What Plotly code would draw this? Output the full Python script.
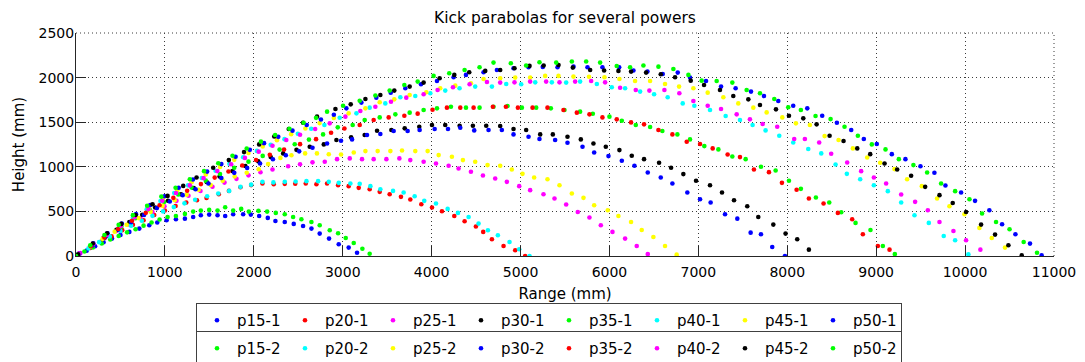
import plotly.graph_objects as go

# ---------------- data ----------------
x_p15_1 = [30, 120, 215, 310, 405, 500, 600, 712, 824, 914, 1019, 1124, 1225, 1318, 1404, 1498, 1592, 1678, 1768, 1880, 1966, 2060, 2157, 2243, 2348, 2449, 2554, 2648, 2741, 2846, 2955, 3067, 3161]
y_p15_1 = [25, 60, 110, 155, 195, 235, 270, 307, 345, 375, 400, 412, 419, 438, 457, 464, 457, 449, 468, 468, 464, 449, 427, 393, 382, 360, 337, 307, 251, 195, 131, 94, 37]

x_p15_2 = [0, 95, 190, 290, 385, 480, 575, 670, 760, 850, 940, 1030, 1124, 1225, 1318, 1404, 1498, 1592, 1678, 1768, 1858, 1944, 2052, 2150, 2247, 2348, 2442, 2535, 2648, 2741, 2854, 2948, 3034, 3124, 3221, 3303]
y_p15_2 = [0, 50, 95, 140, 185, 225, 265, 300, 340, 375, 410, 438, 449, 472, 498, 509, 517, 509, 547, 509, 528, 498, 506, 498, 483, 468, 438, 412, 382, 345, 288, 255, 202, 146, 82, 26]

x_p20_1 = [40, 160, 280, 400, 520, 640, 760, 880, 1000, 1120, 1240, 1360, 1468, 1606, 1720, 1850, 1970, 2097, 2224, 2348, 2466, 2584, 2704, 2824, 2948, 3067, 3180, 3303, 3416, 3528, 3655, 3760, 3884, 4004, 4116, 4255, 4371, 4498, 4580, 4678, 4809, 4940, 5052]
y_p20_1 = [30, 90, 160, 220, 290, 350, 400, 460, 510, 560, 600, 625, 650, 693, 730, 770, 795, 813, 805, 809, 810, 813, 805, 813, 794, 783, 764, 749, 719, 693, 663, 633, 580, 543, 502, 449, 389, 330, 270, 187, 112, 64, 0]

x_p20_2 = [20, 140, 260, 380, 500, 620, 740, 860, 980, 1100, 1220, 1340, 1475, 1600, 1723, 1850, 1970, 2097, 2220, 2348, 2470, 2592, 2723, 2843, 2955, 3086, 3191, 3311, 3423, 3566, 3685, 3809, 3917, 4049, 4180, 4296, 4416, 4528, 4633, 4745, 4876, 4985, 5101]
y_p20_2 = [15, 85, 155, 220, 280, 340, 395, 450, 500, 548, 590, 630, 670, 700, 730, 775, 800, 831, 825, 831, 835, 839, 839, 831, 820, 813, 809, 783, 749, 730, 712, 670, 618, 588, 528, 483, 438, 363, 288, 232, 157, 75, 0]

x_p25_1 = [50, 185, 320, 455, 590, 725, 860, 995, 1130, 1265, 1400, 1535, 1670, 1805, 1940, 2075, 2210, 2386, 2520, 2660, 2798, 2936, 3079, 3217, 3348, 3491, 3637, 3760, 3910, 4049, 4191, 4303, 4442, 4577, 4715, 4846, 4985, 5108, 5258, 5382, 5513, 5644, 5775, 5903, 6034, 6176, 6307, 6431]
y_p25_1 = [33, 119, 201, 280, 355, 426, 494, 558, 618, 675, 728, 777, 823, 865, 904, 939, 970, 1006, 1028, 1050, 1056, 1086, 1094, 1086, 1086, 1086, 1094, 1075, 1056, 1037, 1011, 981, 944, 903, 869, 831, 783, 738, 693, 644, 577, 494, 431, 345, 270, 195, 112, 22]

x_p25_2 = [30, 165, 300, 435, 570, 705, 840, 975, 1110, 1245, 1380, 1515, 1650, 1785, 1920, 2055, 2161, 2299, 2423, 2577, 2710, 2843, 2981, 3124, 3255, 3393, 3536, 3667, 3816, 3955, 4079, 4228, 4352, 4490, 4629, 4771, 4902, 5022, 5153, 5303, 5438, 5577, 5708, 5828, 5981, 6101, 6243, 6363, 6494, 6625, 6756]
y_p25_2 = [20, 108, 192, 273, 351, 425, 495, 562, 626, 686, 742, 795, 845, 891, 934, 973, 1030, 1100, 1130, 1150, 1150, 1140, 1138, 1161, 1176, 1176, 1176, 1183, 1176, 1176, 1131, 1112, 1075, 1056, 1019, 1011, 970, 921, 880, 861, 794, 700, 652, 569, 513, 449, 382, 292, 213, 112, 15]

x_p30_1 = [20, 165, 310, 455, 600, 745, 890, 1035, 1180, 1325, 1470, 1615, 1760, 1905, 2050, 2190, 2330, 2480, 2629, 2787, 2929, 3094, 3247, 3386, 3547, 3697, 3861, 4004, 4153, 4315, 4464, 4614, 4771, 4921, 5063, 5221, 5363, 5528, 5678, 5820, 5959, 6112, 6251, 6389, 6558, 6693, 6831, 6974, 7131, 7266, 7401, 7550, 7674, 7843, 7981, 8112, 8243]
y_p30_1 = [14, 110, 203, 293, 380, 463, 543, 619, 692, 762, 829, 892, 952, 1009, 1062, 1110, 1150, 1190, 1225, 1251, 1300, 1330, 1356, 1404, 1412, 1431, 1449, 1468, 1468, 1461, 1461, 1461, 1457, 1423, 1412, 1363, 1363, 1337, 1307, 1262, 1225, 1187, 1124, 1086, 1045, 989, 918, 843, 794, 712, 625, 558, 438, 352, 251, 187, 71]

x_p30_2 = [40, 185, 330, 475, 620, 765, 910, 1055, 1200, 1345, 1490, 1635, 1780, 1925, 2070, 2215, 2360, 2510, 2660, 2824, 2981, 3105, 3273, 3423, 3573, 3730, 3865, 4034, 4184, 4322, 4479, 4640, 4790, 4921, 5090, 5213, 5389, 5528, 5697, 5828, 5989, 6139, 6281, 6431, 6577, 6708, 6876, 7019, 7138, 7300, 7438, 7588, 7704, 7831, 7974]
y_p30_2 = [26, 119, 209, 296, 380, 460, 537, 611, 682, 749, 813, 874, 932, 986, 1037, 1085, 1130, 1173, 1213, 1262, 1292, 1307, 1356, 1367, 1401, 1401, 1412, 1423, 1423, 1438, 1408, 1412, 1412, 1363, 1337, 1311, 1300, 1270, 1225, 1161, 1120, 1067, 1011, 936, 880, 813, 712, 637, 599, 468, 419, 262, 243, 101, 0]

x_p35_1 = [30, 190, 350, 510, 670, 830, 990, 1150, 1300, 1460, 1620, 1780, 1940, 2100, 2290, 2460, 2620, 2779, 2944, 3112, 3247, 3416, 3592, 3753, 3910, 4060, 4217, 4386, 4539, 4696, 4854, 5015, 5176, 5341, 5494, 5670, 5813, 6000, 6139, 6296, 6457, 6595, 6764, 6906, 7067, 7225, 7382, 7532, 7704, 7869, 8019, 8153, 8322, 8472, 8607, 8768, 8936, 9075, 9210]
y_p35_1 = [20, 127, 230, 329, 424, 517, 605, 690, 767, 845, 920, 990, 1058, 1122, 1193, 1253, 1305, 1363, 1442, 1468, 1524, 1554, 1588, 1607, 1637, 1655, 1674, 1663, 1663, 1674, 1682, 1663, 1663, 1655, 1637, 1618, 1595, 1562, 1517, 1468, 1446, 1401, 1363, 1307, 1232, 1195, 1116, 1086, 1000, 959, 843, 753, 655, 599, 491, 371, 292, 112, 22]

x_p35_2 = [10, 165, 320, 475, 630, 785, 940, 1095, 1250, 1405, 1560, 1715, 1870, 2025, 2180, 2340, 2520, 2700, 2869, 3019, 3191, 3348, 3517, 3693, 3843, 4010, 4172, 4322, 4472, 4689, 4835, 4970, 5135, 5303, 5483, 5633, 5775, 5921, 6082, 6243, 6389, 6551, 6708, 6869, 7019, 7161, 7329, 7468, 7625, 7794, 7940, 8105, 8243, 8408, 8569, 8730, 8850, 9019, 9150]
y_p35_2 = [7, 109, 207, 303, 395, 484, 569, 652, 731, 806, 879, 948, 1014, 1076, 1135, 1193, 1254, 1310, 1382, 1430, 1468, 1524, 1554, 1573, 1596, 1640, 1663, 1663, 1663, 1674, 1674, 1663, 1663, 1663, 1637, 1607, 1588, 1554, 1532, 1498, 1476, 1412, 1363, 1281, 1255, 1206, 1138, 1109, 970, 940, 820, 742, 644, 588, 483, 412, 243, 112, 71]

x_p40_1 = [20, 175, 330, 485, 640, 795, 950, 1105, 1260, 1415, 1570, 1725, 1880, 2035, 2190, 2345, 2495, 2645, 2794, 2966, 3154, 3303, 3479, 3648, 3816, 3985, 4153, 4314, 4490, 4678, 4839, 5007, 5165, 5352, 5513, 5670, 5858, 6026, 6176, 6345, 6502, 6655, 6824, 6955, 7131, 7307, 7468, 7610, 7756, 7910, 8067, 8236, 8382, 8543, 8670, 8820, 8974, 9131, 9281, 9431, 9592, 9760, 9888, 10037]
y_p40_1 = [14, 122, 227, 329, 428, 524, 616, 706, 792, 875, 956, 1033, 1107, 1178, 1246, 1310, 1370, 1427, 1468, 1550, 1599, 1663, 1711, 1779, 1794, 1824, 1854, 1880, 1899, 1899, 1929, 1925, 1947, 1947, 1944, 1955, 1929, 1891, 1880, 1843, 1813, 1779, 1711, 1685, 1637, 1569, 1524, 1468, 1408, 1348, 1273, 1200, 1150, 1026, 921, 861, 794, 727, 599, 457, 371, 225, 176, 19]

x_p40_2 = [40, 195, 350, 505, 660, 815, 970, 1125, 1280, 1435, 1590, 1745, 1900, 2055, 2210, 2365, 2520, 2690, 2854, 3030, 3198, 3367, 3543, 3715, 3910, 4067, 4240, 4427, 4622, 4771, 4932, 5108, 5288, 5438, 5614, 5794, 5951, 6120, 6296, 6449, 6618, 6786, 6944, 7105, 7255, 7431, 7580, 7723, 7887, 8078, 8198, 8359, 8494, 8674, 8831, 8974, 9112, 9281, 9438, 9581, 9712, 9869, 10011, 10172]
y_p40_2 = [28, 134, 237, 337, 434, 528, 619, 707, 792, 873, 952, 1028, 1100, 1170, 1236, 1300, 1360, 1423, 1487, 1562, 1625, 1674, 1730, 1775, 1813, 1861, 1891, 1925, 1950, 1944, 1947, 1955, 1955, 1947, 1955, 1962, 1947, 1887, 1861, 1854, 1861, 1824, 1738, 1685, 1648, 1588, 1532, 1479, 1449, 1311, 1311, 1273, 1146, 1049, 951, 880, 813, 689, 607, 513, 382, 281, 176, 71]

x_p45_1 = [20, 180, 340, 500, 660, 820, 980, 1140, 1300, 1460, 1620, 1780, 1940, 2100, 2260, 2420, 2580, 2740, 2900, 3067, 3255, 3416, 3580, 3753, 3940, 4097, 4266, 4442, 4584, 4771, 4940, 5108, 5277, 5427, 5595, 5770, 5944, 6112, 6288, 6457, 6625, 6783, 6944, 7105, 7281, 7449, 7618, 7768, 7944, 8097, 8254, 8420, 8577, 8738, 8899, 9045, 9206, 9348, 9513, 9685, 9824, 9993, 10161, 10300, 10449]
y_p45_1 = [14, 128, 237, 344, 447, 547, 644, 737, 827, 914, 998, 1078, 1155, 1228, 1299, 1366, 1430, 1490, 1547, 1599, 1655, 1723, 1756, 1805, 1835, 1880, 1910, 1936, 1985, 1992, 2000, 2000, 2019, 2019, 2011, 2010, 2004, 1985, 1962, 1962, 1929, 1899, 1880, 1831, 1779, 1711, 1663, 1610, 1554, 1487, 1468, 1344, 1300, 1206, 1105, 1045, 974, 861, 783, 644, 558, 468, 315, 202, 94]

x_p45_2 = [25, 190, 350, 510, 670, 861, 1030, 1206, 1356, 1543, 1719, 1890, 2060, 2230, 2393, 2554, 2711, 2918, 3090, 3255, 3423, 3580, 3753, 3910, 4090, 4255, 4423, 4603, 4771, 4932, 5101, 5260, 5427, 5588, 5783, 5940, 6101, 6243, 6412, 6577, 6738, 6914, 7064, 7243, 7393, 7562, 7693, 7873, 8019, 8180, 8330, 8476, 8633, 8787, 8933, 9094, 9236, 9393, 9551, 9712, 9861, 10011, 10180, 10337, 10487, 10637]
y_p45_2 = [20, 140, 255, 360, 460, 580, 674, 786, 880, 989, 1075, 1165, 1251, 1340, 1423, 1494, 1562, 1648, 1700, 1760, 1805, 1854, 1899, 1944, 1992, 2030, 2060, 2075, 2086, 2105, 2131, 2135, 2142, 2112, 2086, 2080, 2075, 2067, 2056, 2037, 2004, 1966, 1917, 1861, 1794, 1756, 1693, 1644, 1573, 1543, 1476, 1348, 1290, 1206, 1142, 1037, 970, 899, 775, 682, 595, 494, 352, 240, 120, 7]

x_p50_1 = [35, 195, 355, 515, 675, 835, 995, 1155, 1315, 1475, 1635, 1795, 1955, 2115, 2275, 2435, 2595, 2755, 2900, 3041, 3210, 3378, 3540, 3704, 3880, 4060, 4247, 4386, 4584, 4734, 4921, 5090, 5250, 5416, 5596, 5753, 5921, 6109, 6270, 6427, 6599, 6768, 6906, 7086, 7255, 7419, 7592, 7738, 7899, 8067, 8225, 8393, 8558, 8719, 8861, 9007, 9176, 9329, 9498, 9655, 9779, 9955, 10112, 10273, 10416, 10566, 10730, 10861]
y_p50_1 = [26, 142, 254, 363, 469, 571, 670, 765, 857, 946, 1030, 1112, 1190, 1265, 1336, 1405, 1469, 1530, 1583, 1655, 1720, 1775, 1830, 1880, 1925, 1962, 2004, 2030, 2060, 2086, 2105, 2116, 2120, 2116, 2123, 2116, 2116, 2116, 2079, 2067, 2041, 2056, 2000, 1962, 1899, 1880, 1843, 1794, 1738, 1685, 1655, 1573, 1494, 1412, 1311, 1255, 1142, 1086, 1007, 933, 790, 712, 618, 513, 356, 243, 139, 7]

x_p50_2 = [0, 160, 320, 480, 640, 800, 960, 1120, 1280, 1440, 1600, 1760, 1920, 2080, 2240, 2400, 2560, 2700, 2824, 3004, 3191, 3367, 3528, 3693, 3843, 4022, 4198, 4371, 4539, 4696, 4891, 5063, 5213, 5401, 5577, 5738, 5895, 6082, 6232, 6382, 6551, 6719, 6888, 7037, 7206, 7382, 7543, 7693, 7854, 8011, 8153, 8318, 8487, 8644, 8794, 8951, 9105, 9255, 9419, 9573, 9730, 9888, 10049, 10191, 10348, 10500, 10659, 10809]
y_p50_2 = [0, 120, 236, 349, 458, 564, 666, 765, 860, 951, 1039, 1124, 1205, 1282, 1356, 1426, 1493, 1549, 1618, 1685, 1741, 1800, 1854, 1917, 1955, 2019, 2049, 2086, 2116, 2168, 2161, 2135, 2172, 2168, 2180, 2180, 2168, 2130, 2116, 2135, 2123, 2097, 2030, 1966, 1962, 1944, 1861, 1824, 1760, 1667, 1637, 1569, 1535, 1449, 1348, 1251, 1195, 1086, 1019, 936, 813, 727, 637, 476, 382, 300, 157, 37]

x_ticks = [0, 1000, 2000, 3000, 4000, 5000, 6000, 7000, 8000, 9000, 10000, 11000]
x_tick_labels = ["0", "1000", "2000", "3000", "4000", "5000", "6000", "7000", "8000", "9000", "10000", "11000"]
y_ticks = [0, 500, 1000, 1500, 2000, 2500]
y_tick_labels = ["0", "500", "1000", "1500", "2000", "2500"]

# ---------------- series table: (name, x, y, colour, legend row) ----------------
series = [
    ("p15-1", x_p15_1, y_p15_1, "#0000ff", "legend"),
    ("p20-1", x_p20_1, y_p20_1, "#ff0000", "legend"),
    ("p25-1", x_p25_1, y_p25_1, "#ff00ff", "legend"),
    ("p30-1", x_p30_1, y_p30_1, "#000000", "legend"),
    ("p35-1", x_p35_1, y_p35_1, "#00ff00", "legend"),
    ("p40-1", x_p40_1, y_p40_1, "#00ffff", "legend"),
    ("p45-1", x_p45_1, y_p45_1, "#ffff00", "legend"),
    ("p50-1", x_p50_1, y_p50_1, "#0000ff", "legend"),
    ("p15-2", x_p15_2, y_p15_2, "#00ff00", "legend2"),
    ("p20-2", x_p20_2, y_p20_2, "#00ffff", "legend2"),
    ("p25-2", x_p25_2, y_p25_2, "#ffff00", "legend2"),
    ("p30-2", x_p30_2, y_p30_2, "#0000ff", "legend2"),
    ("p35-2", x_p35_2, y_p35_2, "#ff0000", "legend2"),
    ("p40-2", x_p40_2, y_p40_2, "#ff00ff", "legend2"),
    ("p45-2", x_p45_2, y_p45_2, "#000000", "legend2"),
    ("p50-2", x_p50_2, y_p50_2, "#00ff00", "legend2"),
]

FONT = "DejaVu Sans, Verdana, sans-serif"
W, H = 1085, 362
OFF = 8  # the page body has an 8 px margin: figure coords = screen coords - 8

fig = go.Figure()
for name, xs, ys, col, leg in series:
    fig.add_trace(go.Scatter(
        x=xs, y=ys, mode="markers", name=name, legend=leg,
        marker=dict(symbol="circle", size=4.6, color=col, line=dict(width=0)),
    ))

axis_common = dict(
    showgrid=True, gridcolor="#3a3a3a", gridwidth=1, griddash="1px,3px",
    showline=True, linecolor="#262626", linewidth=1,
    ticks="inside", ticklen=10, tickcolor="#262626", tickwidth=1,
    zeroline=False, automargin=False,
    tickfont=dict(family=FONT, size=14, color="#000000"),
)

legend_common = dict(
    orientation="h", xref="container", yref="container",
    x=(196 - OFF) / W, xanchor="left", yanchor="top",
    entrywidth=43, entrywidthmode="pixels",
    bordercolor="#404040", borderwidth=1, bgcolor="white",
    font=dict(family=FONT, size=15, color="#000000"),
    itemwidth=30, traceorder="normal",
)

# screen-space plot box: x 76..1054, y 33..256
l = 76 - OFF
t = 33 - OFF
r = W - (1054 - OFF)
b = H - (256 - OFF)

fig.update_layout(
    width=W, height=H,
    margin=dict(l=l, r=r, t=t, b=b, autoexpand=False),
    paper_bgcolor="white", plot_bgcolor="white",
    font=dict(family=FONT, size=14, color="#000000"),
    title=dict(text="Kick parabolas for several powers", x=0.5, xref="paper",
               y=1 - 4 / H, yref="container", yanchor="top", pad=dict(t=0, b=0),
               font=dict(family=FONT, size=15.5, color="#000000")),
    xaxis=dict(range=[0, 11000], tickvals=x_ticks, ticktext=x_tick_labels,
               ticklabelstandoff=3,
               title=dict(text="Range (mm)", standoff=9,
                          font=dict(family=FONT, size=15)),
               **axis_common),
    yaxis=dict(range=[0, 2500], tickvals=y_ticks, ticktext=y_tick_labels,
               ticklabelstandoff=-2,
               title=dict(text="Height (mm)", standoff=10,
                          font=dict(family=FONT, size=15)),
               **axis_common),
    legend=dict(y=1 - (303 - OFF) / H, **legend_common),
    legend2=dict(y=1 - (331 - OFF) / H, **legend_common),
    showlegend=True,
)

# top and right edges of the axes box (dotted like the grid in the reference)
fig.add_shape(type="line", xref="paper", yref="paper", x0=0, x1=1, y0=1, y1=1,
              line=dict(color="#3a3a3a", width=1, dash="1px,3px"))
fig.add_shape(type="line", xref="paper", yref="paper", x0=1, x1=1, y0=0, y1=1,
              line=dict(color="#3a3a3a", width=1, dash="1px,3px"))

fig.write_html("out.html")
